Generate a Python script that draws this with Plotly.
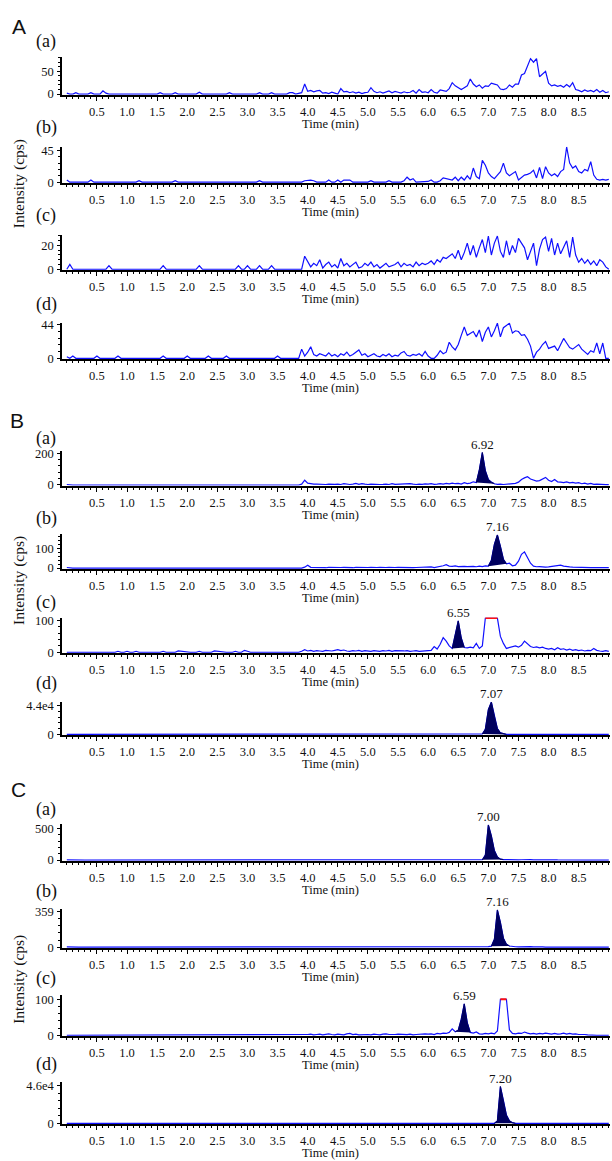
import plotly.graph_objects as go

# ---------------- data ----------------
STEP = 0.05
TIME = [round(i * STEP, 2) for i in range(181)]   # 0.00 ... 9.00 min

A_a = [
    2, 0, 0, 3, 0, 0, 0, 0, 3, 0, 0, 0, 7, 2, 0, 0, 0, 0, 0, 0,
    0, 0, 0, 0, 0, 0, 0, 0, 0, 0, 0, 3, 0, 0, 0, 0, 3, 0, 0, 0,
    0, 0, 0, 0, 4, 0, 0, 0, 0, 0, 0, 0, 0, 0, 3, 0, 0, 0, 0, 0,
    0, 0, 0, 0, 3, 0, 0, 0, 3, 0, 0, 0, 0, 0, 3, 3, 0, 2, 3, 22,
    6, 8, 5, 7, 8, 2, 3, 1, 4, 2, 0, 12, 5, 6, 3, 5, 2, 4, 1, 3,
    4, 14, 6, 3, 5, 2, 4, 7, 3, 6, 4, 2, 5, 3, 4, 8, 2, 10, 4, 5,
    3, 10, 4, 2, 9, 8, 6, 12, 25, 18, 13, 10, 14, 18, 33, 22, 16, 20, 13, 18,
    17, 24, 22, 20, 11, 10, 12, 20, 15, 22, 22, 42, 45, 60, 78, 70, 78, 38, 45, 50,
    24, 18, 20, 17, 19, 15, 21, 16, 25, 10, 8, 5, 9, 6, 8, 5, 10, 4, 8, 3,
    5]
A_b = [
    3, 0, 0, 0, 0, 0, 0, 0, 3, 0, 0, 0, 0, 0, 0, 0, 0, 0, 0, 0,
    0, 0, 0, 0, 2, 0, 0, 0, 0, 0, 0, 0, 0, 0, 0, 0, 2, 0, 0, 0,
    0, 0, 0, 0, 0, 0, 0, 0, 0, 0, 0, 0, 0, 0, 0, 0, 0, 0, 0, 0,
    0, 0, 0, 0, 2, 0, 0, 0, 0, 0, 0, 0, 0, 0, 0, 0, 0, 0, 0, 2,
    3, 3, 2, 0, 0, 0, 0, 3, 0, 0, 3, 0, 3, 3, 3, 0, 0, 0, 0, 0,
    0, 2, 0, 0, 0, 0, 0, 2, 0, 0, 0, 0, 2, 7, 3, 5, 0, 0, 0, 0,
    1, 3, 0, 0, 2, 6, 5, 5, 3, 7, 2, 7, 3, 9, 4, 20, 8, 5, 31, 24,
    13, 8, 5, 10, 15, 27, 13, 9, 12, 15, 3, 6, 10, 11, 13, 17, 6, 21, 5, 22,
    13, 9, 12, 8, 15, 18, 50, 27, 20, 23, 15, 13, 18, 16, 29, 10, 4, 3, 4, 3,
    4]
A_c = [
    0, 4, 0, 0, 0, 0, 0, 0, 0, 0, 0, 0, 0, 0, 3, 0, 0, 0, 0, 0,
    0, 0, 0, 0, 0, 0, 0, 0, 0, 0, 0, 0, 3, 0, 0, 0, 0, 0, 0, 0,
    0, 0, 0, 0, 3, 0, 0, 0, 0, 0, 0, 0, 0, 0, 0, 0, 0, 3, 0, 0,
    3, 0, 0, 0, 3, 0, 0, 0, 3, 0, 0, 0, 0, 0, 0, 0, 0, 0, 0, 11,
    6, 2, 5, 3, 8, 1, 4, 6, 2, 4, 1, 9, 3, 5, 2, 4, 6, 1, 2, 5,
    3, 6, 2, 4, 1, 3, 5, 2, 3, 4, 6, 2, 5, 3, 4, 2, 6, 3, 5, 4,
    5, 7, 4, 8, 6, 10, 9, 11, 13, 9, 16, 8, 14, 22, 12, 20, 10, 18, 25, 14,
    28, 12, 22, 28, 15, 10, 24, 12, 20, 14, 26, 22, 18, 8, 16, 22, 3, 17, 25, 27,
    15, 26, 12, 22, 13, 19, 24, 10, 27, 12, 6, 9, 5, 8, 4, 7, 3, 8, 6, 2,
    0]
A_d = [
    2, 0, 3, 0, 0, 0, 0, 0, 0, 0, 3, 0, 0, 0, 0, 0, 0, 3, 0, 0,
    0, 0, 0, 0, 0, 0, 0, 0, 0, 0, 0, 0, 3, 0, 0, 0, 0, 0, 0, 0,
    3, 0, 0, 0, 0, 0, 0, 3, 0, 0, 0, 0, 0, 3, 0, 0, 0, 0, 0, 0,
    0, 0, 0, 0, 0, 0, 0, 0, 0, 0, 3, 0, 0, 0, 0, 0, 0, 0, 12, 3,
    8, 15, 5, 3, 6, 4, 3, 7, 3, 5, 2, 6, 4, 8, 3, 5, 8, 11, 4, 6,
    2, 4, 6, 3, 2, 5, 3, 6, 2, 4, 3, 7, 9, 4, 3, 5, 4, 6, 3, 9,
    3, 0, 0, 4, 10, 6, 8, 21, 15, 11, 18, 30, 41, 30, 33, 35, 28, 37, 22, 34,
    41, 28, 36, 46, 28, 40, 43, 46, 33, 36, 35, 30, 31, 25, 16, 0, 8, 12, 18, 22,
    13, 15, 16, 10, 18, 26, 20, 14, 12, 15, 18, 12, 8, 5, 10, 8, 20, 6, 20, 0,
    0]
B_a = [
    3, 0, 0, 0, 0, 0, 0, 0, 0, 0, 0, 0, 0, 0, 0, 0, 0, 0, 0, 0,
    3, 0, 0, 0, 4, 0, 0, 0, 0, 0, 3, 0, 0, 0, 0, 0, 0, 0, 0, 0,
    0, 0, 0, 0, 0, 0, 0, 0, 0, 0, 0, 0, 0, 0, 0, 0, 0, 0, 0, 0,
    0, 0, 0, 0, 0, 0, 0, 0, 0, 0, 3, 0, 0, 0, 0, 0, 0, 0, 5, 30,
    12, 8, 6, 5, 3, 2, 3, 5, 3, 4, 6, 3, 8, 5, 3, 6, 10, 4, 8, 5,
    3, 6, 4, 5, 3, 4, 6, 3, 8, 4, 5, 3, 6, 4, 8, 5, 3, 6, 4, 7,
    5, 8, 4, 6, 9, 5, 10, 7, 12, 8, 10, 6, 15, 9, 12, 20, 15, 95, 205, 90,
    35, 18, 8, 4, 6, 3, 5, 8, 12, 10, 18, 35, 45, 52, 38, 31, 25, 28, 40, 48,
    30, 22, 35, 20, 18, 15, 20, 14, 16, 12, 15, 8, 12, 6, 10, 4, 5, 3, 4, 2,
    2]
B_b = [
    3, 0, 0, 0, 0, 0, 0, 0, 0, 0, 0, 0, 0, 0, 0, 0, 0, 0, 0, 0,
    0, 0, 0, 0, 0, 0, 0, 0, 0, 0, 2, 0, 0, 0, 0, 0, 0, 0, 0, 0,
    0, 0, 0, 0, 0, 0, 0, 0, 0, 0, 0, 0, 2, 0, 0, 0, 0, 0, 0, 0,
    0, 0, 0, 0, 0, 0, 0, 0, 0, 0, 2, 0, 0, 0, 0, 0, 0, 0, 0, 5,
    15, 4, 3, 2, 4, 3, 2, 4, 3, 5, 2, 3, 4, 3, 5, 2, 4, 3, 2, 4,
    3, 4, 2, 3, 4, 2, 3, 4, 2, 3, 4, 3, 2, 4, 3, 2, 3, 4, 2, 3,
    4, 6, 3, 5, 8, 12, 17, 10, 9, 11, 8, 10, 9, 8, 10, 9, 7, 10, 8, 11,
    10, 40, 120, 168, 110, 45, 22, 25, 12, 15, 35, 70, 82, 55, 25, 10, 7, 8, 6, 5,
    6, 8, 10, 12, 15, 10, 7, 6, 5, 4, 5, 3, 4, 3, 2, 3, 2, 3, 2, 2,
    2]
B_c = [
    0, 0, 0, 0, 0, 0, 0, 0, 0, 0, 0, 0, 0, 0, 0, 0, 0, 3, 0, 0,
    3, 0, 0, 3, 0, 0, 0, 0, 0, 0, 0, 0, 3, 0, 0, 0, 0, 4, 3, 0,
    0, 0, 0, 0, 3, 0, 0, 0, 0, 4, 3, 0, 0, 0, 0, 0, 3, 0, 0, 6,
    3, 0, 0, 0, 0, 0, 0, 0, 0, 0, 0, 0, 0, 0, 0, 0, 0, 0, 3, 8,
    4, 6, 3, 5, 4, 3, 6, 5, 4, 6, 8, 5, 7, 4, 3, 5, 4, 6, 3, 5,
    4, 3, 5, 4, 3, 5, 4, 6, 3, 5, 4, 3, 4, 5, 3, 4, 5, 3, 4, 5,
    4, 6, 18, 10, 25, 46, 35, 20, 12, 60, 99, 45, 15, 14, 16, 14, 28, 12, 20, 108,
    108, 108, 108, 108, 50, 28, 12, 15, 18, 20, 16, 22, 35, 25, 18, 15, 17, 14, 16, 12,
    10, 12, 8, 14, 9, 11, 7, 10, 6, 8, 5, 7, 4, 6, 5, 12, 6, 4, 3, 5,
    3]
B_d = [
    0, 0, 0, 0, 0, 0, 0, 0, 0, 0, 0, 0, 0, 0, 0, 0, 0, 0, 0, 0,
    0, 0, 0, 0, 0, 0, 0, 0, 0, 0, 0, 0, 0, 0, 0, 0, 0, 0, 0, 0,
    0, 0, 0, 0, 0, 0, 0, 0, 0, 0, 0, 0, 0, 0, 0, 0, 0, 0, 0, 0,
    0, 0, 0, 0, 0, 0, 0, 0, 0, 0, 0, 0, 0, 0, 0, 0, 0, 0, 0, 0,
    0, 0, 0, 0, 0, 0, 0, 0, 0, 0, 0, 0, 0, 0, 0, 0, 0, 0, 0, 0,
    0, 0, 0, 0, 0, 0, 0, 0, 0, 0, 0, 0, 0, 0, 0, 0, 0, 0, 0, 0,
    0, 0, 0, 0, 0, 0, 0, 0, 0, 0, 0, 0, 0, 0, 0, 0, 0, 0, 600, 8000,
    38000, 49500, 28000, 9000, 2500, 800, 0, 0, 0, 0, 0, 0, 0, 0, 0, 0, 0, 0, 0, 0,
    0, 0, 0, 0, 0, 0, 0, 0, 0, 0, 0, 0, 0, 0, 0, 0, 0, 0, 0, 0,
    0]
C_a = [
    2, 0, 0, 0, 0, 0, 0, 0, 0, 0, 0, 0, 0, 0, 0, 0, 0, 0, 0, 0,
    0, 0, 0, 0, 0, 0, 2, 0, 0, 0, 0, 0, 0, 0, 0, 0, 0, 0, 0, 0,
    0, 0, 0, 0, 0, 0, 0, 0, 0, 0, 0, 0, 0, 0, 0, 0, 0, 0, 0, 0,
    0, 0, 0, 0, 0, 0, 0, 0, 0, 0, 0, 0, 0, 0, 0, 0, 0, 0, 0, 0,
    0, 0, 0, 0, 0, 0, 0, 0, 0, 0, 0, 0, 0, 0, 0, 0, 0, 0, 0, 0,
    0, 0, 0, 0, 0, 0, 0, 0, 0, 0, 0, 0, 0, 0, 0, 0, 0, 0, 0, 0,
    0, 0, 0, 0, 0, 0, 0, 0, 0, 0, 0, 0, 0, 0, 5, 3, 6, 4, 5, 80,
    555, 380, 150, 50, 15, 8, 5, 6, 4, 7, 3, 5, 8, 4, 6, 3, 7, 4, 5, 3,
    6, 3, 4, 2, 3, 0, 0, 0, 0, 0, 0, 0, 0, 0, 0, 0, 0, 0, 0, 0,
    0]
C_b = [
    2, 0, 0, 0, 0, 0, 0, 0, 0, 0, 0, 0, 0, 0, 0, 0, 0, 0, 0, 0,
    0, 0, 0, 0, 0, 0, 0, 0, 0, 0, 0, 0, 0, 0, 0, 0, 0, 0, 0, 0,
    0, 0, 0, 0, 0, 0, 0, 0, 0, 0, 0, 0, 0, 0, 0, 0, 0, 0, 0, 0,
    0, 0, 0, 0, 0, 0, 0, 0, 0, 0, 0, 0, 0, 0, 0, 0, 0, 0, 0, 0,
    0, 0, 0, 0, 0, 0, 0, 0, 0, 0, 0, 0, 0, 0, 0, 0, 0, 0, 0, 0,
    0, 0, 0, 0, 0, 0, 0, 0, 0, 0, 0, 0, 0, 0, 0, 0, 0, 0, 0, 0,
    0, 0, 0, 0, 0, 0, 0, 0, 0, 0, 0, 0, 0, 0, 4, 0, 3, 5, 0, 4,
    5, 10, 80, 375, 250, 90, 30, 12, 6, 4, 3, 5, 4, 3, 5, 2, 4, 3, 2, 0,
    0, 0, 0, 0, 0, 0, 0, 0, 0, 0, 0, 0, 0, 0, 0, 0, 0, 0, 0, 0,
    0]
C_c = [
    0, 0, 0, 0, 0, 0, 0, 0, 0, 0, 0, 0, 0, 0, 0, 0, 0, 0, 0, 0,
    0, 0, 0, 0, 0, 0, 0, 0, 0, 0, 0, 0, 0, 0, 0, 0, 2, 0, 0, 0,
    0, 0, 0, 0, 0, 0, 0, 0, 0, 0, 0, 0, 0, 0, 0, 0, 0, 0, 0, 0,
    0, 0, 0, 0, 0, 0, 0, 0, 0, 0, 2, 0, 0, 0, 0, 0, 0, 0, 0, 2,
    2, 3, 1, 2, 3, 1, 2, 4, 2, 1, 3, 2, 1, 4, 5, 2, 3, 1, 2, 3,
    2, 1, 3, 2, 1, 3, 4, 2, 1, 2, 3, 2, 1, 2, 3, 1, 2, 3, 2, 4,
    3, 4, 2, 5, 4, 6, 5, 8, 18, 10, 14, 45, 88, 35, 8, 6, 9, 4, 3, 5,
    4, 6, 4, 12, 101, 101, 101, 15, 5, 4, 6, 5, 9, 6, 4, 5, 3, 5, 4, 6,
    4, 3, 5, 3, 4, 6, 3, 5, 3, 4, 2, 3, 2, 1, 0, 0, 0, 0, 0, 0,
    0]
C_d = [
    0, 0, 0, 0, 0, 0, 0, 0, 0, 0, 0, 0, 0, 0, 0, 0, 0, 0, 0, 0,
    0, 0, 0, 0, 0, 0, 0, 0, 0, 0, 0, 0, 0, 0, 0, 0, 0, 0, 0, 0,
    0, 0, 0, 0, 0, 0, 0, 0, 0, 0, 0, 0, 0, 0, 0, 0, 0, 0, 0, 0,
    0, 0, 0, 0, 0, 0, 0, 0, 0, 0, 0, 0, 0, 0, 0, 0, 0, 0, 0, 0,
    0, 0, 0, 0, 0, 0, 0, 0, 0, 0, 0, 0, 0, 0, 0, 0, 0, 0, 0, 0,
    0, 0, 0, 0, 0, 0, 0, 0, 0, 0, 0, 0, 0, 0, 0, 0, 0, 0, 0, 0,
    0, 0, 0, 0, 0, 0, 0, 0, 0, 0, 0, 0, 0, 0, 0, 0, 0, 0, 0, 0,
    0, 0, 0, 3000, 45000, 28000, 10000, 3000, 800, 0, 0, 0, 0, 0, 0, 0, 0, 0, 0, 0,
    0, 0, 0, 0, 0, 0, 0, 0, 0, 0, 0, 0, 0, 0, 0, 0, 0, 0, 0, 0,
    0]

SERIES = [A_a, A_b, A_c, A_d, B_a, B_b, B_c, B_d, C_a, C_b, C_c, C_d]
TOP_TICK = [50, 45, 20, 44, 200, 100, 100, 44000, 500, 359, 100, 46000]
TOP_TICK_TEXT = ["50", "45", "20", "44", "200", "100", "100", "4.4e4",
                 "500", "359", "100", "4.6e4"]
PEAK_WINDOW = [None, None, None, None,
               (6.80, 7.10), (7.00, 7.30), (6.40, 6.60), (6.90, 7.30),
               (6.90, 7.25), (7.05, 7.35), (6.45, 6.70), (7.10, 7.45)]
PEAK_LABEL = [None, None, None, None,
              "6.92", "7.16", "6.55", "7.07", "7.00", "7.16", "6.59", "7.20"]
SATURATION = [None, None, None, None, None, None, 108, None, None, None, 101, None]
SUB_LABEL = ["(a)", "(b)", "(c)", "(d)"] * 3
GROUPS = ["A", "B", "C"]
X_TICKS = [0.5, 1.0, 1.5, 2.0, 2.5, 3.0, 3.5, 4.0, 4.5, 5.0, 5.5, 6.0, 6.5, 7.0, 7.5, 8.0, 8.5]
X_TICK_TEXT = ["0.5", "1.0", "1.5", "2.0", "2.5", "3.0", "3.5", "4.0", "4.5",
               "5.0", "5.5", "6.0", "6.5", "7.0", "7.5", "8.0", "8.5"]

for s in SERIES:
    assert len(s) == len(TIME), len(s)

# ---------------- geometry (pixels) ----------------
W, H = 612, 1161
ML, MR = 62, 2
BASE_PX = [90, 179, 267, 357, 485, 569, 654, 737, 864, 952, 1041, 1130]
TOP_PX = [53, 143, 232, 321, 451, 535, 619, 704, 828, 913, 1000, 1088]
TICK_PX = [67, 147, 243, 323, 453, 549, 622, 708, 832, 916, 1005, 1092]
SUB_PX = [37, 124, 213, 303, 438, 519, 604, 686, 813, 896, 984, 1071]
GROUP_PX = [(19, 22), (17, 420), (18, 793)]
YTITLE_PX = [181, 582, 985]


def py(px):
    return 1 - px / H


def pxx(px):
    return (px - ML) / (W - ML - MR)


SERIF = "Liberation Serif, Times New Roman, serif"
SANS = "Liberation Sans, Arial, sans-serif"
BLUE = "#1010ff"
NAVY = "#00005e"
RED = "#ff1010"
INK = "#111111"

fig = go.Figure()
layout = {}
annotations = []

for i, vals in enumerate(SERIES):
    n = i + 1
    sfx = "" if n == 1 else str(n)
    xr, yr = "x" + sfx, "y" + sfx
    base, top, tpx = BASE_PX[i], TOP_PX[i], TICK_PX[i]
    tick = TOP_TICK[i]
    ymax = tick * (base - top) / (base - tpx)
    per_px = ymax / (base - top)
    pad = 0.8 * per_px

    layout["xaxis" + sfx] = dict(
        domain=[0, 1], anchor=yr, range=[-0.08, 9.02],
        showline=True, linecolor="black", linewidth=1.6,
        ticks="outside", ticklen=4, tickwidth=1, tickcolor="black",
        tickmode="array", tickvals=X_TICKS, ticktext=X_TICK_TEXT,
        tickfont=dict(family=SERIF, size=12.5, color=INK),
        ticklabelstandoff=0,
        showgrid=False, zeroline=False, fixedrange=True,
        minor=dict(ticks="outside", ticklen=2.5, tickwidth=1, tickcolor="black",
                   tickmode="linear", tick0=0, dtick=0.1, showgrid=False),
    )
    layout["yaxis" + sfx] = dict(
        domain=[py(base + 0.8), py(top)], anchor=xr, range=[-pad, ymax],
        showline=True, linecolor="black", linewidth=1.6,
        ticks="outside", ticklen=3, tickwidth=1, tickcolor="black",
        tickmode="array", tickvals=[0, tick], ticktext=["0", TOP_TICK_TEXT[i]],
        tickfont=dict(family=SERIF, size=12.5, color=INK),
        ticklabelstandoff=1,
        showgrid=False, zeroline=False, fixedrange=True,
        minor=dict(ticks="outside", ticklen=2, tickwidth=1, tickcolor="black",
                   tickmode="linear", tick0=0, dtick=tick / 5, showgrid=False),
    )

    fig.add_trace(go.Scatter(x=TIME, y=vals, mode="lines", xaxis=xr, yaxis=yr,
                             line=dict(color=BLUE, width=1.2), showlegend=False,
                             hoverinfo="skip"))

    win = PEAK_WINDOW[i]
    if win is not None:
        i0, i1 = round(win[0] / STEP), round(win[1] / STEP)
        px_ = TIME[i0:i1 + 1]
        py_ = vals[i0:i1 + 1]
        fig.add_trace(go.Scatter(x=px_, y=py_, mode="lines", fill="toself",
                                 fillcolor=NAVY, xaxis=xr, yaxis=yr,
                                 line=dict(color=NAVY, width=1), showlegend=False,
                                 hoverinfo="skip"))
        k = max(range(len(py_)), key=lambda j: py_[j])
        annotations.append(dict(x=px_[k], y=py_[k], xref=xr, yref=yr,
                                text=PEAK_LABEL[i], showarrow=False,
                                yanchor="bottom", yshift=0, borderpad=0,
                                font=dict(family=SERIF, size=13, color=INK)))

    sat = SATURATION[i]
    if sat is not None:
        ry = [v if v >= sat else None for v in vals]
        fig.add_trace(go.Scatter(x=TIME, y=ry, mode="lines", xaxis=xr, yaxis=yr,
                                 line=dict(color=RED, width=2), connectgaps=False,
                                 showlegend=False, hoverinfo="skip"))

    # "Time (min)" label under each panel
    annotations.append(dict(x=pxx(330), y=py(base + 30), xref="paper", yref="paper",
                            text="Time (min)", showarrow=False, borderpad=0,
                            xanchor="center", yanchor="middle",
                            font=dict(family=SERIF, size=12.5, color=INK)))
    # sub-panel label (a)-(d)
    annotations.append(dict(x=pxx(35), y=py(SUB_PX[i]), xref="paper", yref="paper",
                            text=SUB_LABEL[i], showarrow=False, borderpad=0,
                            xanchor="left", yanchor="middle",
                            font=dict(family=SERIF, size=18, color=INK)))

for g, letter in enumerate(GROUPS):
    gx, gy = GROUP_PX[g]
    annotations.append(dict(x=pxx(gx), y=py(gy), xref="paper", yref="paper",
                            text=letter, showarrow=False, borderpad=0,
                            xanchor="center", yanchor="middle",
                            font=dict(family=SANS, size=21, color=INK)))
    annotations.append(dict(x=pxx(19), y=py(YTITLE_PX[g]), xref="paper", yref="paper",
                            text="Intensity (cps)", textangle=-90, showarrow=False,
                            borderpad=0, xanchor="center", yanchor="middle",
                            font=dict(family=SERIF, size=15.5, color=INK)))

fig.update_layout(
    width=W, height=H,
    margin=dict(l=ML, r=MR, t=0, b=0),
    paper_bgcolor="white", plot_bgcolor="white",
    showlegend=False,
    annotations=annotations,
    **layout,
)

fig.write_html(
    "out.html",
    config={"displayModeBar": False},
    post_script="document.body.style.margin='0';document.body.style.overflow='hidden';",
)
